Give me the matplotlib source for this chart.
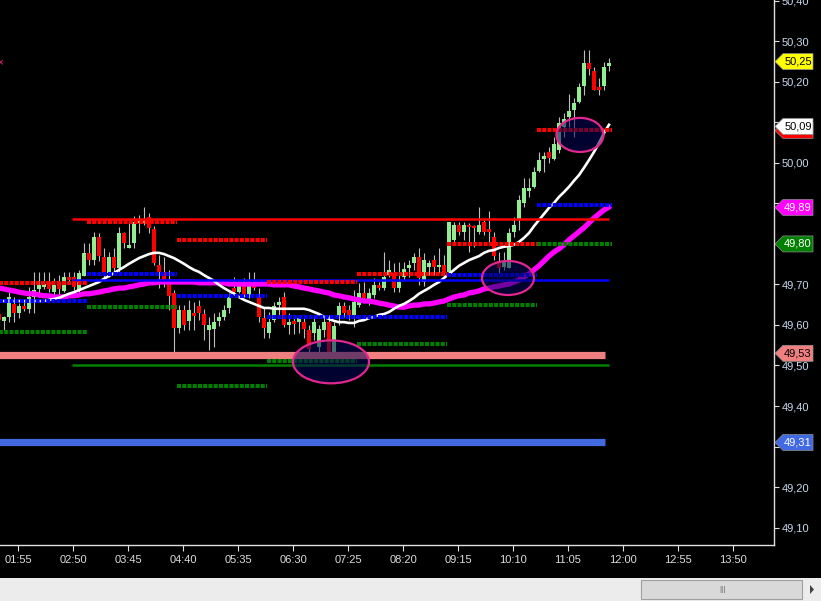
import matplotlib
matplotlib.use("Agg")
import matplotlib.pyplot as plt
import numpy as np
from matplotlib.patches import Ellipse, Polygon, Rectangle


def hhmm(s):
    h, m = s.split(":")
    return int(h) * 60 + int(m)


# ---- data (5 minute bars) ------------------------------------------------
first_bar = "01:36"

opens = [49.627,
         49.610, 49.620, 49.652, 49.630, 49.647, 49.640, 49.669, 49.689, 49.694, 49.706,
         49.681, 49.706, 49.684, 49.718, 49.718, 49.684, 49.721, 49.778, 49.760, 49.817,
         49.768, 49.728, 49.768, 49.741, 49.827, 49.790, 49.802, 49.852, 49.852, 49.867,
         49.837, 49.748, 49.731, 49.704, 49.679, 49.593, 49.637, 49.610, 49.630, 49.647,
         49.627, 49.588, 49.590, 49.610, 49.620, 49.642, 49.691, 49.681, 49.696, 49.674,
         49.704, 49.669, 49.617, 49.580, 49.612, 49.649, 49.669, 49.600, 49.610, 49.607,
         49.607, 49.588, 49.580, 49.546, 49.588, 49.607, 49.526, 49.625, 49.647, 49.637,
         49.625, 49.649, 49.679, 49.662, 49.674, 49.699, 49.691, 49.723, 49.728, 49.691,
         49.718, 49.741, 49.753, 49.768, 49.706, 49.743, 49.760, 49.743, 49.748, 49.731,
         49.810, 49.847, 49.830, 49.847, 49.844, 49.830, 49.854, 49.837, 49.817, 49.758,
         49.743, 49.741, 49.830, 49.862, 49.901, 49.931, 49.941, 49.980, 50.010, 50.027,
         50.010, 50.032, 50.089, 50.114, 50.131, 50.151, 50.190, 50.247, 50.227, 50.188,
         50.190, 50.240]
highs = [49.640,
         49.622, 49.681, 49.669, 49.654, 49.657, 49.694, 49.731, 49.731, 49.731, 49.731,
         49.716, 49.723, 49.731, 49.731, 49.731, 49.736, 49.802, 49.802, 49.830, 49.827,
         49.790, 49.780, 49.790, 49.842, 49.830, 49.859, 49.869, 49.872, 49.891, 49.877,
         49.844, 49.773, 49.768, 49.736, 49.686, 49.649, 49.649, 49.662, 49.657, 49.662,
         49.640, 49.620, 49.630, 49.632, 49.649, 49.679, 49.718, 49.711, 49.716, 49.731,
         49.731, 49.691, 49.644, 49.632, 49.657, 49.669, 49.681, 49.630, 49.620, 49.625,
         49.620, 49.600, 49.625, 49.600, 49.625, 49.625, 49.607, 49.657, 49.657, 49.649,
         49.686, 49.704, 49.706, 49.691, 49.716, 49.706, 49.780, 49.760, 49.753, 49.755,
         49.755, 49.760, 49.778, 49.790, 49.778, 49.760, 49.773, 49.790, 49.773, 49.854,
         49.854, 49.854, 49.854, 49.852, 49.847, 49.891, 49.859, 49.881, 49.830, 49.780,
         49.780, 49.840, 49.867, 49.921, 49.963, 49.963, 49.990, 50.027, 50.027, 50.040,
         50.064, 50.114, 50.123, 50.170, 50.160, 50.198, 50.279, 50.279, 50.237, 50.210,
         50.249, 50.259]
lows = [49.600,
        49.588, 49.607, 49.607, 49.617, 49.635, 49.630, 49.630, 49.669, 49.689, 49.681,
        49.674, 49.669, 49.681, 49.704, 49.686, 49.674, 49.721, 49.748, 49.748, 49.758,
        49.718, 49.718, 49.731, 49.731, 49.790, 49.790, 49.790, 49.827, 49.847, 49.827,
        49.748, 49.691, 49.694, 49.637, 49.531, 49.580, 49.588, 49.588, 49.588, 49.612,
        49.563, 49.538, 49.546, 49.598, 49.612, 49.630, 49.679, 49.679, 49.669, 49.667,
        49.686, 49.607, 49.568, 49.568, 49.607, 49.617, 49.595, 49.578, 49.578, 49.580,
        49.568, 49.531, 49.563, 49.531, 49.570, 49.521, 49.521, 49.600, 49.620, 49.612,
        49.595, 49.644, 49.662, 49.649, 49.667, 49.686, 49.686, 49.718, 49.681, 49.681,
        49.711, 49.718, 49.736, 49.699, 49.696, 49.723, 49.723, 49.728, 49.718, 49.723,
        49.802, 49.822, 49.810, 49.780, 49.793, 49.825, 49.822, 49.802, 49.760, 49.728,
        49.736, 49.741, 49.817, 49.835, 49.891, 49.916, 49.938, 49.978, 49.978, 50.000,
        50.007, 50.025, 50.064, 50.089, 50.064, 50.148, 50.168, 50.217, 50.180, 50.168,
        50.180, 50.227]
closes = [49.612,
          49.620, 49.669, 49.630, 49.647, 49.640, 49.669, 49.686, 49.699, 49.701, 49.689,
          49.699, 49.689, 49.718, 49.711, 49.694, 49.728, 49.778, 49.760, 49.817, 49.770,
          49.728, 49.768, 49.741, 49.827, 49.802, 49.798, 49.854, 49.857, 49.857, 49.840,
          49.753, 49.731, 49.711, 49.671, 49.593, 49.637, 49.600, 49.637, 49.622, 49.630,
          49.600, 49.600, 49.607, 49.620, 49.637, 49.669, 49.681, 49.699, 49.674, 49.699,
          49.691, 49.620, 49.593, 49.607, 49.647, 49.657, 49.600, 49.607, 49.603, 49.617,
          49.590, 49.541, 49.607, 49.590, 49.607, 49.526, 49.598, 49.647, 49.630, 49.625,
          49.657, 49.679, 49.667, 49.679, 49.699, 49.691, 49.718, 49.736, 49.691, 49.706,
          49.738, 49.748, 49.768, 49.716, 49.760, 49.753, 49.743, 49.748, 49.728, 49.854,
          49.847, 49.830, 49.847, 49.842, 49.840, 49.847, 49.830, 49.830, 49.770, 49.741,
          49.755, 49.827, 49.847, 49.909, 49.938, 49.938, 49.978, 50.007, 50.017, 50.012,
          50.047, 50.099, 50.109, 50.128, 50.148, 50.188, 50.247, 50.232, 50.180, 50.180,
          50.237, 50.247]

# fast average (white) and slow average (magenta)
ma_fast = [49.659,
           49.659, 49.659, 49.659, 49.659, 49.659, 49.659, 49.659, 49.659, 49.659, 49.662,
           49.664, 49.667, 49.672, 49.677, 49.681, 49.686, 49.691, 49.696, 49.701, 49.706,
           49.714, 49.721, 49.728, 49.736, 49.743, 49.751, 49.758, 49.765, 49.770, 49.775,
           49.778, 49.778, 49.775, 49.770, 49.765, 49.758, 49.751, 49.743, 49.736, 49.731,
           49.723, 49.716, 49.709, 49.699, 49.691, 49.684, 49.677, 49.669, 49.662, 49.657,
           49.652, 49.647, 49.642, 49.642, 49.640, 49.640, 49.640, 49.640, 49.640, 49.640,
           49.640, 49.637, 49.632, 49.627, 49.620, 49.615, 49.610, 49.607, 49.607, 49.605,
           49.605, 49.610, 49.612, 49.617, 49.620, 49.625, 49.627, 49.632, 49.640, 49.647,
           49.652, 49.659, 49.667, 49.677, 49.684, 49.691, 49.699, 49.706, 49.716, 49.726,
           49.736, 49.746, 49.753, 49.760, 49.765, 49.770, 49.778, 49.783, 49.785, 49.790,
           49.793, 49.795, 49.798, 49.805, 49.815, 49.827, 49.844, 49.859, 49.874, 49.889,
           49.901, 49.916, 49.928, 49.941, 49.956, 49.970, 49.988, 50.007, 50.027, 50.049,
           50.074, 50.094]
ma_slow = [49.691,
           49.689, 49.686, 49.684, 49.681, 49.679, 49.677, 49.677, 49.674, 49.672, 49.672,
           49.669, 49.669, 49.669, 49.672, 49.672, 49.674, 49.677, 49.677, 49.679, 49.681,
           49.684, 49.686, 49.689, 49.691, 49.691, 49.694, 49.696, 49.699, 49.701, 49.704,
           49.704, 49.706, 49.706, 49.706, 49.706, 49.706, 49.706, 49.706, 49.706, 49.704,
           49.704, 49.704, 49.704, 49.704, 49.704, 49.701, 49.701, 49.701, 49.701, 49.701,
           49.701, 49.701, 49.701, 49.701, 49.699, 49.699, 49.699, 49.699, 49.696, 49.694,
           49.691, 49.689, 49.686, 49.684, 49.681, 49.679, 49.674, 49.672, 49.669, 49.667,
           49.664, 49.662, 49.659, 49.659, 49.657, 49.654, 49.652, 49.649, 49.647, 49.644,
           49.644, 49.647, 49.649, 49.649, 49.652, 49.652, 49.654, 49.657, 49.659, 49.664,
           49.669, 49.672, 49.674, 49.679, 49.681, 49.684, 49.689, 49.691, 49.694, 49.696,
           49.699, 49.701, 49.706, 49.711, 49.719, 49.726, 49.736, 49.746, 49.758, 49.770,
           49.780, 49.788, 49.798, 49.810, 49.820, 49.830, 49.840, 49.852, 49.864, 49.874,
           49.884, 49.891]

# pivot levels per 90 minute session (session start as bar index)
session_start = [0, 18, 36, 54, 72, 90, 108]
res_levels = [49.703, 49.855, 49.810, 49.705, 49.725, 49.800, 50.080]
mid_levels = [49.660, 49.727, 49.672, 49.620, 49.620, 49.724, 49.896]
sup_levels = [49.583, 49.645, 49.450, 49.510, 49.552, 49.650, 49.800]

# daily levels
day_levels = [49.862, 49.711, 49.500]
day_colors = ["#ff0000", "#0000ff", "#008000"]
band_levels = [49.525, 49.310]
band_colors = ["#f08080", "#4169e1"]

# highlighted zones: centre time, centre price, width (min), height (price)
zones = [("07:08", 49.509, 76, 0.106),
         ("10:05", 49.716, 52, 0.084),
         ("11:17", 50.069, 47, 0.084)]

# price tags on the right scale: price, fill, text colour (None = hidden text)
tags = [(50.25, "#ffff00", "black"),
        (50.08, "#ff0000", None),
        (50.09, "#ffffff", "black"),
        (49.89, "#ff00ff", "white"),
        (49.80, "#008000", "white"),
        (49.53, "#f08080", "black"),
        (49.31, "#4169e1", "white")]

y_ticks = [49.10, 49.20, 49.30, 49.40, 49.50, 49.60, 49.70, 49.80, 49.90,
           50.00, 50.10, 50.20, 50.30, 50.40]
y_hidden = [49.30, 49.80, 49.90]   # labels fully covered by the price tags
x_labels = ["01:55", "02:50", "03:45", "04:40", "05:35", "06:30", "07:25",
            "08:20", "09:15", "10:10", "11:05", "12:00", "12:55", "13:50"]

# ---- plot ---------------------------------------------------------------
plt.rcParams["font.family"] = ["Liberation Sans", "DejaVu Sans"]

opens = np.array(opens)
closes = np.array(closes)
bar_t = hhmm(first_bar) + 5 * np.arange(len(opens))

fig = plt.figure(figsize=(8.21, 6.01), dpi=100, facecolor="black")
ax = fig.add_axes([0, 56 / 601, 774 / 821, 545 / 601], facecolor="black")

# candles
up = closes >= opens
body_lo = np.minimum(opens, closes)
body_h = np.maximum(np.abs(closes - opens), 0.003)
ax.vlines(bar_t, lows, highs, color="#bdbdbd", lw=0.8, zorder=2)
ax.bar(bar_t, body_h, bottom=body_lo, width=4,
       color=np.where(up, "#90ee90", "#ff0000"), linewidth=0, zorder=2.5)

# moving averages
ax.plot(bar_t, ma_slow, color="#ff00ff", lw=3.8, zorder=3, solid_capstyle="round")
ax.plot(bar_t, ma_fast, color="white", lw=1.9, zorder=4)

# daily levels and bands
ax.hlines(day_levels, bar_t[15] - 2.5, bar_t[-1], colors=day_colors, lw=1.8, zorder=5)
ax.hlines(band_levels, bar_t[0] - 10, bar_t[-1] - 4, colors=band_colors, lw=5.2, zorder=5)

# session pivots (square dotted)
seg_lo = bar_t[session_start] - 2.5
seg_hi = np.append(bar_t[session_start[1:]] - 2.5, bar_t[-1] + 2.5)
for levels, col in ((res_levels, "#ff0000"), (mid_levels, "#0000ff"), (sup_levels, "#008000")):
    ax.hlines(levels, seg_lo, seg_hi, colors=col, lw=2.9,
              linestyles=(0, (1, 0.3)), zorder=6)

for t, p, w, h in zones:
    ax.add_patch(Ellipse((hhmm(t), p), w, h, facecolor=(0.02, 0.02, 0.35, 0.55),
                         edgecolor="#e3268f", lw=1.6, zorder=7))

ax.set_xlim(97, 871)
ax.set_ylim(49.057, 50.402)

ax.set_xticks([hhmm(s) for s in x_labels])
ax.set_xticklabels(x_labels)
ax.set_yticks(y_ticks)
ax.set_yticklabels(["" if v in y_hidden else f"{v:.2f}".replace(".", ",") for v in y_ticks])
ax.yaxis.tick_right()
ax.tick_params(axis="x", colors="#e0e0e0", labelcolor="#dcdcdc", labelsize=8,
               length=4.5, width=0.8, pad=3)
ax.tick_params(axis="y", colors="#e0e0e0", labelcolor="#c8d8f0", labelsize=8,
               length=3.6, width=0.8, pad=2)
for side in ("top", "left"):
    ax.spines[side].set_visible(False)
for side in ("right", "bottom"):
    ax.spines[side].set_color("#e0e0e0")
    ax.spines[side].set_linewidth(1)

# ---- overlay in pixel units: price tags and scroll bar --------------------
ov = fig.add_axes([0, 0, 1, 1])
ov.set_xlim(0, 821)
ov.set_ylim(601, 0)
ov.axis("off")
ov.set_zorder(5)

fig_h = fig.bbox.height
for price, fc, tc in tags:
    y = fig_h - ax.transData.transform((bar_t[0], price))[1]
    ov.add_patch(Polygon([(775, y), (783, y - 8), (813, y - 8), (813, y + 8), (783, y + 8)],
                         closed=True, fc=fc, ec="#909090", lw=0.5))
    if tc:
        ov.text(798, y, f"{price:.2f}".replace(".", ","), ha="center", va="center",
                color=tc, fontsize=8)

ov.text(0, 62, "\u00d7", color="#ff2080", fontsize=7, ha="center", va="center")

ov.add_patch(Rectangle((0, 578), 821, 23, fc="#ececec", ec="none"))
ov.add_patch(Rectangle((641, 580), 161, 19, fc="#d9d9d9", ec="#a0a0a0", lw=0.8))
ov.text(722, 589.5, "|||", ha="center", va="center", color="#606060", fontsize=6)
ov.add_patch(Polygon([(810, 585), (810, 594), (814, 589.5)], closed=True,
                     fc="#404040", ec="none"))

fig.savefig("out.png", dpi=100, facecolor="black")
